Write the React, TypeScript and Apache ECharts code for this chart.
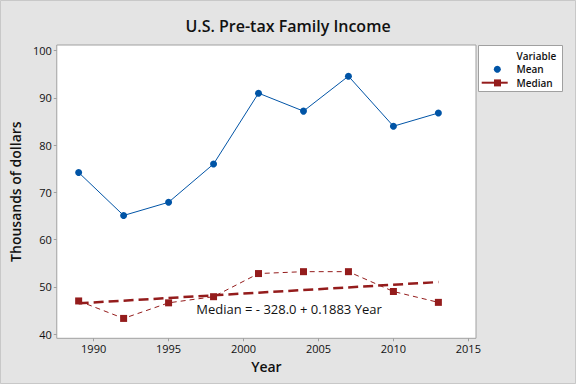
import React, { useEffect, useRef } from "react";
import * as echarts from "echarts";

const years = [1989, 1992, 1995, 1998, 2001, 2004, 2007, 2010, 2013];
const meanValues = [74.2, 65.1, 67.9, 76.0, 91.0, 87.2, 94.6, 84.0, 86.8];
const medianValues = [47.0, 43.3, 46.6, 47.9, 52.8, 53.2, 53.2, 49.0, 46.7];
const fitYears = [1989, 2013];
const fitValues = [46.5, 51.0];
const xTicks = [1990, 1995, 2000, 2005, 2010, 2015];
const yTicks = [40, 50, 60, 70, 80, 90, 100];
const equationText = "Median = - 328.0 + 0.1883 Year";

const FONT = "'Open Sans', 'Noto Sans', sans-serif";
const BLUE = "#0054a6";
const RED = "#941c1c";

export default function App() {
  const ref = useRef<HTMLDivElement>(null);
  useEffect(() => {
    if (!ref.current) return;
    const chart = echarts.init(ref.current, undefined, { renderer: "svg" });
    const pair = (xs: number[], ys: number[]) => xs.map((x, i) => [x, ys[i]]);
    chart.setOption({
      animation: false,
      backgroundColor: "#e4e4e4",
      textStyle: { fontFamily: FONT },
      title: {
        text: "U.S. Pre-tax Family Income",
        left: "center",
        top: 13,
        textStyle: { fontFamily: FONT, fontSize: 16, fontWeight: 600, color: "#111" },
      },
      grid: {
        left: 55.3,
        top: 45,
        right: 100,
        bottom: 45.7,
        show: true,
        backgroundColor: "#ffffff",
        borderColor: "#a0a0a0",
        borderWidth: 1,
      },
      xAxis: {
        type: "value",
        min: 1987.54,
        max: 2015.51,
        name: "Year",
        nameLocation: "middle",
        nameGap: 20,
        nameTextStyle: { fontFamily: FONT, fontSize: 14, fontWeight: 600, color: "#111" },
        axisLine: { show: false },
        splitLine: { show: false },
        axisTick: {
          show: true,
          customValues: xTicks,
          length: 3,
          lineStyle: { color: "#a0a0a0" },
        },
        axisLabel: {
          customValues: xTicks,
          margin: 5,
          fontSize: 11,
          color: "#111",
          fontFamily: FONT,
          formatter: (v: number) => String(v),
        },
      },
      yAxis: {
        type: "value",
        min: 39.09,
        max: 101.2,
        name: "Thousands of dollars",
        nameLocation: "middle",
        nameGap: 30,
        nameTextStyle: { fontFamily: FONT, fontSize: 14, fontWeight: 600, color: "#111" },
        axisLine: { show: false },
        splitLine: { show: false },
        axisTick: {
          show: true,
          customValues: yTicks,
          length: 3,
          lineStyle: { color: "#a0a0a0" },
        },
        axisLabel: {
          customValues: yTicks,
          margin: 5,
          fontSize: 11,
          color: "#111",
          fontFamily: FONT,
          formatter: (v: number) => String(v),
        },
      },
      series: [
        {
          name: "Mean",
          type: "line",
          data: pair(years, meanValues),
          symbol: "circle",
          symbolSize: 7,
          lineStyle: { color: BLUE, width: 1 },
          itemStyle: { color: BLUE },
          z: 3,
        },
        {
          name: "Median",
          type: "line",
          data: pair(years, medianValues),
          symbol: "rect",
          symbolSize: 7,
          lineStyle: { color: RED, width: 1, type: [5, 4] },
          itemStyle: { color: RED },
          z: 3,
        },
        {
          name: "Fit",
          type: "line",
          data: pair(fitYears, fitValues),
          symbol: "none",
          lineStyle: { color: RED, width: 2.5, type: [10, 5] },
          z: 2,
        },
      ],
      graphic: [
        {
          type: "rect",
          shape: { x: 0.5, y: 0.5, width: 575, height: 383 },
          style: { fill: "none", stroke: "#c8c8c8", lineWidth: 1 },
          silent: true,
          z: -1,
        },
        {
          type: "text",
          x: 289,
          y: 309,
          style: {
            text: equationText,
            fontFamily: FONT,
            fontSize: 13,
            fill: "#111",
            textAlign: "center",
            textVerticalAlign: "middle",
          },
          z: 10,
        },
        {
          type: "group",
          children: [
            {
              type: "rect",
              shape: { x: 478.5, y: 45.5, width: 84, height: 46 },
              style: { fill: "#ffffff", stroke: "#a0a0a0", lineWidth: 1 },
            },
            {
              type: "text",
              x: 516.5,
              y: 55.7,
              style: { text: "Variable", fontFamily: FONT, fontSize: 10, fontWeight: 600, fill: "#111", textVerticalAlign: "middle" },
            },
            {
              type: "circle",
              shape: { cx: 497.3, cy: 69.3, r: 3.5 },
              style: { fill: BLUE },
            },
            {
              type: "text",
              x: 516.5,
              y: 69.3,
              style: { text: "Mean", fontFamily: FONT, fontSize: 10, fontWeight: 600, fill: "#111", textVerticalAlign: "middle" },
            },
            {
              type: "line",
              shape: { x1: 481.7, y1: 82.7, x2: 507.7, y2: 82.7 },
              style: { stroke: RED, lineWidth: 2 },
            },
            {
              type: "rect",
              shape: { x: 494, y: 79.4, width: 7, height: 7 },
              style: { fill: RED },
            },
            {
              type: "text",
              x: 516.5,
              y: 82.7,
              style: { text: "Median", fontFamily: FONT, fontSize: 10, fontWeight: 600, fill: "#111", textVerticalAlign: "middle" },
            },
          ],
        },
      ],
    });
    return () => chart.dispose();
  }, []);
  return (
    <div
      ref={ref}
      style={{ position: "fixed", left: 0, top: 0, width: 576, height: 384 }}
    />
  );
}
